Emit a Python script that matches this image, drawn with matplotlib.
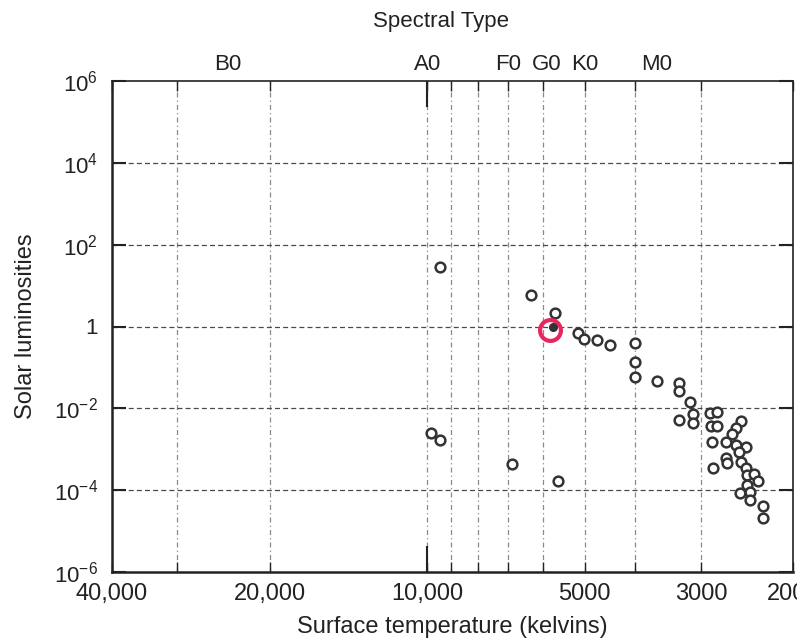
import matplotlib
matplotlib.use("Agg")
import matplotlib.pyplot as plt
from matplotlib.ticker import FixedLocator, FixedFormatter, NullLocator

plt.rcParams['font.family'] = ['Liberation Sans', 'DejaVu Sans']
plt.rcParams['mathtext.fontset'] = 'custom'
plt.rcParams['mathtext.rm'] = 'Liberation Sans'
plt.rcParams['mathtext.default'] = 'rm'

# stars (kelvins, solar luminosities)
star_temp = [9450, 6330, 5700, 5140, 5010, 4740, 4470, 4010, 4010, 4010,
             3630, 3300, 3300, 3140, 3300, 3100, 3100, 2880, 2800, 2870,
             2800, 2860, 2510, 2570, 2620, 2680, 2570, 2460, 2540, 2680,
             2670, 2840, 2510, 2460, 2450, 2370, 2330, 2450, 2530, 2420,
             2420, 2280, 2280,
             9830, 9450, 6890, 5630]
star_lum = [28, 5.9, 2.1, 0.68, 0.49, 0.47, 0.35, 0.39, 0.138, 0.059,
            0.047, 0.041, 0.027, 0.0141, 0.0052, 0.0071, 0.0043, 0.0076, 0.0080, 0.0036,
            0.0038, 0.00153, 0.0049, 0.0034, 0.0023, 0.00153, 0.00127, 0.00116, 0.00084, 0.00060,
            0.00045, 0.00035, 0.00050, 0.00035, 0.000235, 0.000244, 0.000168, 0.000134, 0.000084, 0.000089,
            0.0000575, 0.000042, 0.0000212,
            0.00245, 0.00168, 0.000434, 0.000165]

sun_temp = [5760]
sun_lum = [1.0]
ring_temp = [5820]
ring_lum = [0.84]

x_grid = [30000, 20000, 10000, 9000, 8000, 7000, 6000, 5000, 4000, 3000]
x_label_pos = [40000, 20000, 10000, 5000, 3000, 2000]
x_label_txt = ['40,000', '20,000', '10,000', '5000', '3000', '2000']
y_ticks = [1e-6, 1e-4, 1e-2, 1, 1e2, 1e4, 1e6]
y_labels = [r'$10^{-6}$', r'$10^{-4}$', r'$10^{-2}$', '1', r'$10^{2}$', r'$10^{4}$', r'$10^{6}$']
spec_types = ['B0', 'A0', 'F0', 'G0', 'K0', 'M0']
spec_temp = [24000, 10000, 7000, 5900, 5000, 3640]

fig = plt.figure(figsize=(7.97, 6.41), dpi=100)
ax = fig.add_axes([112/797, 1 - 572/641, 681/797, 491/641])
ax.set_xscale('log')
ax.set_yscale('log')
ax.set_xlim(40000, 2000)
ax.set_ylim(1e-6, 1e6)

# x ticks: marks at grid temps, labels only at a few
xpos = sorted(set(x_grid + x_label_pos), reverse=True)
xlab = [x_label_txt[x_label_pos.index(t)] if t in x_label_pos else '' for t in xpos]
ax.xaxis.set_major_locator(FixedLocator(xpos))
ax.xaxis.set_major_formatter(FixedFormatter(xlab))
ax.xaxis.set_minor_locator(NullLocator())
ax.yaxis.set_major_locator(FixedLocator(y_ticks))
ax.yaxis.set_major_formatter(FixedFormatter(y_labels))
ax.yaxis.set_minor_locator(NullLocator())

ax.tick_params(axis='x', which='major', direction='in', length=7, width=1,
               top=True, bottom=True, labelsize=17, pad=8, colors='#222')
ax.tick_params(axis='y', which='major', direction='in', length=10, width=1.5,
               left=True, right=True, labelsize=16, pad=10, colors='#222')

for t in x_grid:
    ax.axvline(t, color='#8a8a8a', lw=0.9, ls=(0, (4, 2.5, 1, 2.5)), zorder=0)
for v in y_ticks[1:-1]:
    ax.axhline(v, color='#4a4a4a', lw=0.9, ls=(0, (4, 2.5)), zorder=0)

# longer solid marks at A0
ax.axvline(10000, ymin=0, ymax=0.05, color='#222', lw=1.5)
ax.axvline(10000, ymin=0.95, ymax=1, color='#222', lw=1.5)

for s in ax.spines.values():
    s.set_color('#222')
    s.set_linewidth(1.2)
ax.spines['left'].set_linewidth(1.8)
ax.spines['bottom'].set_linewidth(1.8)

ax.plot(star_temp, star_lum, 'o', ms=7, mfc='white', mec='#333333', mew=1.8, zorder=3)
ax.plot(ring_temp, ring_lum, 'o', ms=15, mfc='none', mec='#e8275e', mew=3, zorder=4)
ax.plot(sun_temp, sun_lum, 'o', ms=5.5, mfc='#333333', mec='#333333', zorder=5)

for name, t in zip(spec_types, spec_temp):
    ax.text(t, 1.012, name, transform=ax.get_xaxis_transform(), ha='center', va='bottom',
            fontsize=16, color='#222')

fig.text(441/797, 1 - 22/641, 'Spectral Type', ha='center', va='center', fontsize=16, color='#222')
ax.set_xlabel('Surface temperature (kelvins)', fontsize=17, color='#222', labelpad=8)
ax.set_ylabel('Solar luminosities', fontsize=17, color='#222', labelpad=12)

fig.savefig('out.png', dpi=100)
